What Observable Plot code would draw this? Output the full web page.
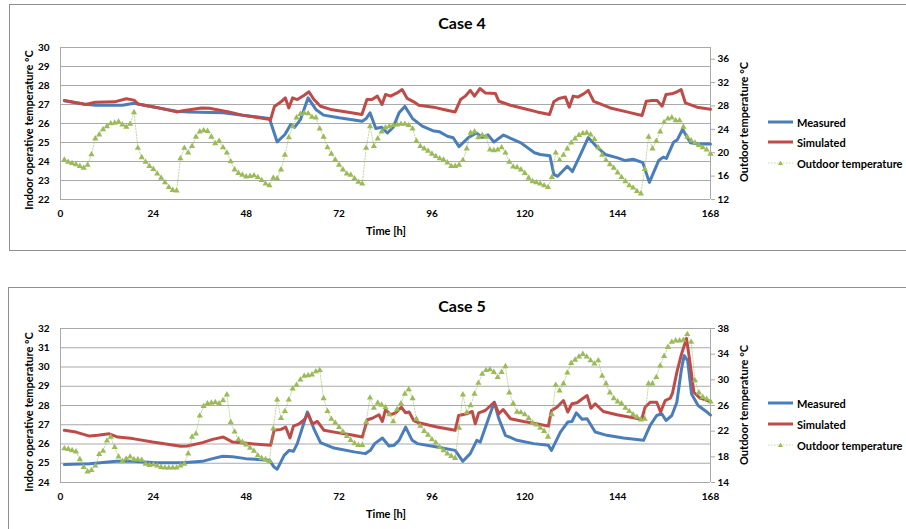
<!DOCTYPE html>
<html><head><meta charset="utf-8">
<script src="https://cdn.jsdelivr.net/npm/d3@7"></script>
<script src="https://cdn.jsdelivr.net/npm/@observablehq/plot@0.6"></script>
<style>
body{margin:0;background:#fff;font-family:Lato,"Open Sans",sans-serif;}
#root{position:relative;width:906px;height:529px;overflow:hidden;background:#fff}
.box{position:absolute;border:1px solid #8f8f8f;}
.t{position:absolute;font-weight:bold;color:#000;white-space:nowrap;line-height:1}
.title{font-size:16px;transform:translate(-50%,-50%)}
.ylab{font-size:11px;transform:translate(-50%,-50%) rotate(-90deg)}
.xlab{font-size:11px;transform:translate(-50%,-50%)}
.leg{position:absolute;font-size:11px;font-weight:bold;white-space:nowrap;line-height:1;display:flex;align-items:center}
.leg svg{margin-right:4px}
.chart{position:absolute;left:0}
</style></head>
<body>
<div id="root"></div>
<script>
// ---------- shared ----------
const xTicks = [0, 24, 48, 72, 96, 120, 144, 168];
const seriesNames = ["Measured", "Simulated", "Outdoor temperature"];
const hours = d3.range(1, 169);

// ---------- Case 4 ----------
const c4Title = "Case 4";
const c4LeftTicks = [22, 23, 24, 25, 26, 27, 28, 29, 30];
const c4RightTicks = [12, 16, 20, 24, 28, 32, 36];
const c4RightDomain = [12, 38];
const c4Outdoor = [18.8,18.4,18.2,18.0,17.7,17.4,17.9,19.7,22.4,23.1,24.0,24.5,25.0,25.1,25.3,24.8,24.4,24.9,26.9,20.8,
19.2,18.4,17.7,17.2,16.4,15.7,14.9,14.1,13.6,13.5,19.0,20.8,20.0,21.1,22.7,23.6,23.8,23.7,22.7,21.6,
22.0,20.9,20.0,18.5,17.1,16.5,16.2,15.9,16.0,16.1,15.8,15.3,14.7,14.4,15.7,15.6,17.1,19.6,22.6,24.5,
26.0,26.6,26.8,26.7,26.1,26.0,24.1,22.7,20.9,19.8,18.8,17.9,17.1,16.4,16.2,15.6,15.0,14.7,20.8,24.5,
21.1,22.4,23.6,24.3,24.5,24.7,24.8,24.9,24.9,24.7,24.1,22.0,21.1,20.7,20.3,19.8,19.4,19.0,18.8,18.3,
17.7,17.7,17.9,18.7,20.7,23.4,23.6,22.6,23.0,22.7,20.5,20.4,20.5,20.9,20.0,18.4,17.6,17.5,17.1,16.5,
15.7,15.1,14.9,14.7,14.4,14.1,15.8,20.0,18.7,19.6,20.7,21.7,22.4,23.0,23.3,23.4,23.1,22.3,20.9,19.6,
18.7,18.0,17.4,16.6,15.8,15.1,14.4,14.0,13.4,13.0,17.2,22.7,20.7,22.0,23.6,25.2,25.8,26.0,25.5,25.5,
24.4,22.7,22.1,21.7,21.3,20.9,20.5,19.8];
const c4MeasH = [1,6,9,16,19,24,30,33,42,47,54,56,58,59.5,60.5,62,64,66,68,72,78,79,80,81.5,83,84.5,86,87.5,89,91,93.5,96.5,98,100,101.5,103,105.5,107.5,109,110.5,112,114.5,116.5,119,122.5,124,126.5,127.5,128.5,131,132.3,134.2,136.4,138.7,140.8,144,146,148,150.5,152.2,154.6,155.8,156.6,158.5,159.4,160.8,162.8,165,168];
const c4MeasV = [27.2,27.03,26.96,26.96,27.07,26.87,26.65,26.6,26.56,26.44,26.26,25.03,25.42,25.95,25.8,26.2,27.35,26.74,26.44,26.3,26.12,26.26,26.56,25.74,25.8,25.5,25.8,26.56,26.9,26.26,25.86,25.6,25.56,25.33,25.25,24.78,25.27,25.5,25.27,25.4,25.03,25.39,25.21,24.98,24.46,24.37,24.3,23.32,23.22,23.75,23.47,24.28,25.26,24.75,24.37,24.19,24.05,24.12,23.94,22.9,24.05,24.23,24.16,25.03,25.14,25.7,24.98,24.92,24.92];
const c4SimH = [1,6.5,9,14,17,19,20,24.5,30,32,36.5,38.5,43.5,47,54.3,55.3,57,58.1,59,60,61.2,63,64.2,65.5,67.2,69.8,74,77.9,79.2,80.5,81.9,83.1,84,85.3,87,88.3,89.6,91.3,92.6,96.4,99,102,103.4,104.6,105.9,107,108.4,109.8,112.4,113.3,116.3,119.7,123.2,126.4,127.5,128.8,130.5,131.5,132.5,133.7,135.2,136.4,137.8,139.5,142.1,146.4,150.3,151.4,152.9,154.2,155.5,156.5,158,159.4,160.4,161.5,164.5,168];
const c4SimV = [27.21,27.0,27.12,27.14,27.3,27.23,27.03,26.86,26.61,26.68,26.82,26.8,26.61,26.44,26.21,26.9,27.14,27.35,26.82,27.35,27.26,27.49,27.67,27.26,26.91,26.74,26.6,26.47,27.26,27.26,27.44,27.0,27.53,27.44,27.61,27.79,27.32,27.14,26.96,26.86,26.74,26.61,27.26,27.44,27.74,27.44,27.84,27.61,27.58,27.17,26.96,26.79,26.61,26.47,27.14,27.32,27.39,26.86,27.44,27.39,27.56,27.74,27.17,27.03,26.82,26.61,26.42,27.17,27.21,27.21,26.91,27.53,27.56,27.67,27.79,27.09,26.86,26.75];

// ---------- Case 5 ----------
const c5Title = "Case 5";
const c5LeftTicks = [24, 25, 26, 27, 28, 29, 30, 31, 32];
const c5RightTicks = [14, 18, 22, 26, 30, 34, 38];
const c5RightDomain = [14, 38];
const c5Outdoor = [19.3,19.2,19.0,18.8,17.6,16.4,15.7,15.9,16.6,18.4,18.9,20.5,21.1,19.5,18.0,17.3,17.7,18.0,17.6,17.6,
17.5,16.9,16.7,16.8,16.6,16.4,16.3,16.3,16.3,16.3,16.6,16.9,18.5,21.1,21.6,24.4,25.9,26.3,26.4,26.5,
26.3,26.8,27.7,23.4,21.9,20.7,20.3,19.9,19.4,18.9,18.2,17.8,17.6,17.3,22.4,26.9,24.0,25.1,26.9,28.6,
29.2,30.0,30.6,30.7,30.8,31.3,31.5,27.1,25.1,23.9,23.3,22.6,21.9,21.2,20.6,20.1,19.8,19.8,23.4,27.2,
25.6,26.4,26.1,25.7,24.6,23.5,25.4,26.3,27.8,28.5,27.1,23.9,22.8,22.0,21.4,20.7,20.2,19.5,19.0,18.5,
18.1,17.8,22.5,27.7,24.9,26.0,27.8,29.5,30.9,31.5,31.6,31.2,30.4,31.2,32.1,28.0,26.3,25.0,24.9,24.6,
24.0,23.3,23.0,22.5,22.0,21.1,24.6,29.2,28.3,29.4,31.1,32.6,33.1,33.6,34.0,33.6,33.0,32.5,33.0,30.6,
29.4,28.0,27.1,26.6,26.3,25.6,25.1,24.6,24.2,23.8,23.9,29.4,29.4,30.4,32.2,33.7,35.1,35.9,36.1,36.1,
36.2,37.1,35.9,29.9,28.0,27.3,27.0,26.6];
const c5MeasH = [1,7.5,14.4,18.7,24.7,31.6,36.7,39.3,41.9,44.5,47.9,54,55.2,56,57.8,59.1,60.2,61.2,63.8,65.5,67.2,70.7,75.9,78.8,80.1,81.2,83.2,84.9,86.2,87.5,89.2,90.9,92.2,97.3,102,104,105.9,107.6,108.5,112.1,113.3,115,118,122.3,126.1,126.9,129.2,131.1,132.2,133.3,134.8,136.1,138.2,141.2,145.5,150.7,152.4,154.1,155.4,156.5,158,159.3,160.5,161.2,162.1,163.1,164.8,166.9,168];
const c5MeasV = [24.93,24.98,25.1,25.1,25.03,25.03,25.1,25.24,25.36,25.34,25.24,25.16,24.8,24.69,25.41,25.67,25.62,26.02,27.66,26.79,26.07,25.79,25.59,25.5,25.67,26.02,26.31,25.9,25.93,26.19,26.88,26.19,26.02,25.84,25.67,25.1,25.5,26.19,26.1,28.17,27.31,26.45,26.19,26.02,25.93,25.67,26.62,27.14,27.17,27.62,27.28,27.31,26.62,26.45,26.31,26.19,26.97,27.48,27.57,27.22,27.48,28.17,29.9,30.59,30.33,28.6,28.0,27.69,27.5];
const c5SimH = [1,4,7.5,9.6,12.6,14.8,18.7,23.8,28.1,31.1,32.8,36.7,39.3,42.1,44.5,48.8,54.3,55.2,57,58.2,59.3,60.2,61.7,63,64,65.1,66.4,68.1,71.5,75,78,79.3,80.6,82.3,83.2,84,85.3,86.6,88.1,89.2,90.1,91.3,92.6,97.3,102,102.9,105,106.4,107.2,108.1,109.8,112.1,113.3,114.4,116.3,119.7,123.1,126.1,126.9,128.3,130,131.1,132.2,133.5,134.8,136.1,137.1,138.2,140.3,143.8,150.2,151.1,152.4,154.1,155.1,156.3,157.6,158.2,159.3,160.5,161.8,162.7,163.7,165.3,168];
const c5SimV = [26.71,26.62,26.41,26.45,26.53,26.36,26.28,26.1,25.97,25.88,25.9,26.07,26.24,26.36,26.1,26.02,25.93,26.71,26.76,26.88,26.31,26.93,27.05,27.26,27.57,27.05,27.17,26.71,26.59,26.48,26.36,27.26,27.34,27.52,27.17,27.79,27.52,27.62,27.91,27.62,27.66,27.22,27.1,26.88,26.71,27.48,27.57,27.69,27.05,27.62,27.74,28.17,27.57,27.79,27.31,27.17,27.05,26.93,27.74,27.91,28.26,27.66,28.09,28.14,28.34,28.52,27.86,28.09,27.69,27.52,27.28,27.91,28.17,28.17,27.66,28.26,28.38,28.66,29.72,30.67,31.48,30.24,28.69,28.38,28.21];

// ---------- drawing ----------
const COL_M = "#4A7EBB", COL_S = "#BE4B48", COL_O = "#9BBB59", GRID = "#a9a9a9";
const root = document.getElementById("root");

function addText(cls, txt, x, y) {
  const d = document.createElement("div");
  d.className = "t " + cls;
  d.textContent = txt;
  d.style.left = x + "px"; d.style.top = y + "px";
  root.appendChild(d);
}

function legendItem(kind, txt, x, y) {
  const d = document.createElement("div");
  d.className = "leg";
  d.style.left = x + "px"; d.style.top = (y - 7) + "px"; d.style.height = "14px";
  let inner;
  if (kind === 0) inner = `<line x1="0" y1="7" x2="25" y2="7" stroke="${COL_M}" stroke-width="3"/>`;
  else if (kind === 1) inner = `<line x1="0" y1="7" x2="25" y2="7" stroke="${COL_S}" stroke-width="3"/>`;
  else inner = `<line x1="0" y1="7" x2="25" y2="7" stroke="${COL_O}" stroke-width="0.8" stroke-dasharray="1.5,1.5" stroke-opacity="0.7"/><path d="M12.5,4.5 L15,9 L10,9 Z" fill="${COL_O}"/>`;
  d.innerHTML = `<svg width="25" height="14">${inner}</svg><span>${txt}</span>`;
  root.appendChild(d);
}

function panel(cfg) {
  const box = document.createElement("div");
  box.className = "box";
  Object.assign(box.style, {left: cfg.boxLeft + "px", top: cfg.boxTop + "px", width: "920px", height: cfg.boxH + "px"});
  root.appendChild(box);

  const [y0, y1] = [cfg.leftTicks[0], cfg.leftTicks[cfg.leftTicks.length - 1]];
  const [r0, r1] = cfg.rightDomain;
  const toL = v => y0 + (v - r0) * (y1 - y0) / (r1 - r0);
  const fromL = v => r0 + (v - y0) * (r1 - r0) / (y1 - y0);
  const meas = cfg.measH.map((h, i) => ({h, v: cfg.measV[i]}));
  const sim = cfg.simH.map((h, i) => ({h, v: cfg.simV[i]}));
  const out = hours.map((h, i) => ({h, v: toL(cfg.outdoor[i])}));

  const chart = Plot.plot({
    width: 906, height: cfg.height,
    marginLeft: 60, marginRight: 196, marginTop: cfg.mt, marginBottom: cfg.mb,
    x: {domain: [0, 168]},
    y: {domain: [y0, y1]},
    style: {fontFamily: "Lato, 'Open Sans', sans-serif", fontWeight: "bold", fontSize: "10px", background: "transparent", color: "#000"},
    marks: [
      Plot.gridY(cfg.leftTicks, {stroke: GRID, strokeOpacity: 1, strokeWidth: 1}),
      Plot.ruleX([0], {stroke: GRID}),
      Plot.ruleX([168], {stroke: GRID}),
      Plot.axisX(xTicks, {tickSize: 0, tickPadding: 10, label: null}),
      Plot.axisY(cfg.leftTicks, {tickSize: 0, tickPadding: 11, label: null}),
      Plot.axisY(cfg.rightTicks.map(toL), {anchor: "right", tickSize: 4, tickPadding: 3, stroke: GRID, label: null,
        tickFormat: v => String(Math.round(fromL(v)))}),
      Plot.line(meas, {x: "h", y: "v", stroke: COL_M, strokeWidth: 3}),
      Plot.line(sim, {x: "h", y: "v", stroke: COL_S, strokeWidth: 3}),
      Plot.line(out, {x: "h", y: "v", stroke: COL_O, strokeWidth: 0.8, strokeDasharray: "1.5,1.5", strokeOpacity: 0.7}),
      Plot.dot(out, {x: "h", y: "v", symbol: "triangle", r: 2.3, fill: COL_O, stroke: null})
    ]
  });
  chart.classList.add("chart");
  chart.style.top = cfg.top + "px";
  root.appendChild(chart);

  addText("title", cfg.title, 462, cfg.top + cfg.titleY);
  addText("ylab", "Indoor operative temperature ºC", 28, cfg.top + cfg.ylabY);
  addText("ylab", "Outdoor temperature °C", 743, cfg.top + cfg.rlabY);
  addText("xlab", "Time [h]", 386, cfg.top + cfg.xlabY);
  seriesNames.forEach((n, i) => legendItem(i, n, 768, cfg.top + cfg.legY[i]));
}

panel({title: c4Title, top: 0, height: 250, mt: 47, mb: 51, boxLeft: 9, boxTop: 4, boxH: 245,
  leftTicks: c4LeftTicks, rightTicks: c4RightTicks, rightDomain: c4RightDomain,
  outdoor: c4Outdoor, measH: c4MeasH, measV: c4MeasV, simH: c4SimH, simV: c4SimV,
  titleY: 23, ylabY: 130, rlabY: 122, xlabY: 230, legY: [122, 142, 163]});

panel({title: c5Title, top: 280, height: 249, mt: 48, mb: 47, boxLeft: 8, boxTop: 287, boxH: 260,
  leftTicks: c5LeftTicks, rightTicks: c5RightTicks, rightDomain: c5RightDomain,
  outdoor: c5Outdoor, measH: c5MeasH, measV: c5MeasV, simH: c5SimH, simV: c5SimV,
  titleY: 26, ylabY: 132, rlabY: 125, xlabY: 233, legY: [123, 144, 165]});
</script>
</body></html>
